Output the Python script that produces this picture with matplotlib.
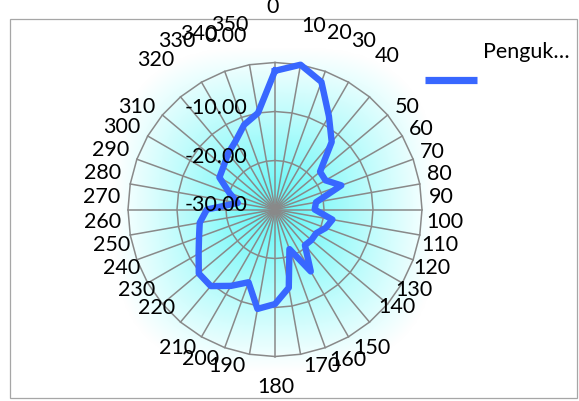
import numpy as np
import matplotlib
matplotlib.use("Agg")
import matplotlib.pyplot as plt
from matplotlib.patches import Rectangle
from matplotlib.lines import Line2D

# ---------------- data ----------------
categories = ["0", "10", "20", "30", "40", "50", "60", "70", "80", "90",
              "100", "110", "120", "130", "140", "150", "160", "170", "180", "190",
              "200", "210", "220", "230", "240", "250", "260", "270", "280", "290",
              "300", "310", "320", "330", "340", "350"]
values = [-1.7, 0.0, -2.3, -8.0, -12.0, -18.0, -18.1, -15.6, -21.5, -21.9,
          -18.1, -19.0, -20.3, -20.3, -20.5, -15.4, -21.4, -13.8, -10.7, -9.4,
          -14.2, -12.0, -9.6, -9.7, -12.0, -13.5, -14.4, -16.1, -22.3, -20.1,
          -16.9, -16.3, -15.1, -13.9, -11.6, -10.0]
series_name = "Penguk…"
radial_ticks = [-30, -20, -10, 0]
radial_labels = ["-30.00", "-20.00", "-10.00", "0.00"]

# ---------------- layout (pixels) ----------------
W, H = 579, 401
cx, cy, R = 275, 209.5, 147
FONT = ["Lato", "DejaVu Sans"]
FS = 15.5

# category label centres as laid out by the original (pixels from top-left)
label_xy = [(273, 7), (314, 26), (339, 33), (364, 41), (387, 56), (407, 107),
            (421, 129), (432, 152), (439, 174), (441, 197), (445, 222), (440, 245),
            (432, 268), (414, 290), (397, 307), (372, 348), (348, 360), (322, 366),
            (276, 387), (227, 366), (201, 359), (178, 348), (157, 308), (137, 290),
            (122, 268), (112, 245), (103, 222), (102, 197), (103, 173), (111, 150),
            (122, 127), (137, 107), (156, 60), (177, 41), (199, 34), (230, 25)]
# radial label offsets (pixels) relative to their tick on the 0-degree axis
radial_offsets = [(-28, 4.5), (-28, 3.5), (-28, 3.5), (-28, 27)]

plt.rcParams["font.family"] = FONT

fig = plt.figure(figsize=(W / 100, H / 100), dpi=100)
fig.patch.set_facecolor("white")

# background radial gradient (rounded-square path, fading to white)
G = 162
bg = fig.add_axes([(cx - G) / W, (H - cy - G) / H, 2 * G / W, 2 * G / H])
n = 400
u = np.linspace(-1, 1, n)
X, Y = np.meshgrid(u, u)
t = np.clip((np.abs(X) ** 3 + np.abs(Y) ** 3) ** (1 / 3), 0, 1)
cyan = np.array([0.36, 0.97, 0.97])
white = np.array([1.0, 1.0, 1.0])
w = ((1 - t) ** 1.05)[..., None]
img = white * (1 - w) + cyan * w
bg.imshow(img, extent=[-1, 1, -1, 1], interpolation="bilinear")
bg.set_axis_off()
bg.set_zorder(0)

# polar axes
ax = fig.add_axes([(cx - R) / W, (H - cy - R) / H, 2 * R / W, 2 * R / H],
                  projection="polar")
ax.set_zorder(1)
ax.patch.set_alpha(0)
ax.set_theta_zero_location("N")
ax.set_theta_direction(-1)
ax.set_ylim(radial_ticks[0], radial_ticks[-1])
ax.grid(False)
ax.spines["polar"].set_visible(False)
ax.set_xticks([])
ax.set_yticks([])

theta = np.deg2rad(np.array([float(c) for c in categories]))
theta_c = np.append(theta, theta[0])
grid_col = "#898989"
for th in theta:
    ax.plot([th, th], [radial_ticks[0], radial_ticks[-1]], color=grid_col, lw=1.1,
            zorder=1, clip_on=False)
for lv in radial_ticks[1:]:
    ax.plot(theta_c, [lv] * len(theta_c), color=grid_col, lw=1.1, zorder=1,
            clip_on=False)

vals_c = np.append(values, values[0])
ax.plot(theta_c, vals_c, color="#3867FF", lw=4.6, zorder=3, clip_on=False,
        solid_joinstyle="round")

# radial tick labels
for lv, lab, (ox, oy) in zip(radial_ticks, radial_labels, radial_offsets):
    ax.annotate(lab, xy=(0, lv), xycoords="data", xytext=(ox * 0.72, oy * 0.72),
                textcoords="offset points", ha="right", va="center",
                fontsize=FS, color="black", zorder=4, annotation_clip=False)

# category labels
for lab, (x, y) in zip(categories, label_xy):
    fig.text(x / W, 1 - y / H, lab, ha="center", va="center", fontsize=FS,
             color="black")

# frame
fig.patches.append(Rectangle((10 / W, (H - 398) / H), 567 / W, 379 / H,
                             transform=fig.transFigure, fill=False,
                             ec="#A6A6A6", lw=0.9))

# legend
fig.lines.append(Line2D([425 / W, 477 / W], [1 - 80 / H, 1 - 80 / H],
                        transform=fig.transFigure, color="#3867FF", lw=5.2,
                        solid_capstyle="butt"))
fig.text(483 / W, 1 - 52 / H, series_name, ha="left", va="center",
         fontsize=FS, color="black")

fig.savefig("out.png", dpi=100)
